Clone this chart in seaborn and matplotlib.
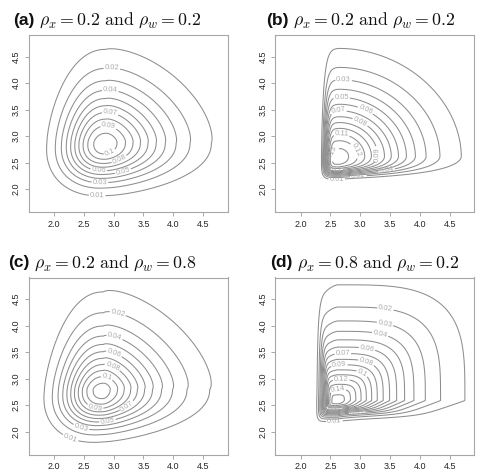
import numpy as np
import matplotlib.pyplot as plt
import seaborn as sns

# panel headers
panel_tags = ["(a)", "(b)", "(c)", "(d)"]
rho_x = [0.2, 0.2, 0.2, 0.8]
rho_w = [0.2, 0.2, 0.8, 0.2]

# shape of each density surface
mode_x = [2.87, 2.66, 2.83, 2.63]
mode_y = [2.87, 2.62, 2.80, 2.59]
peak = [0.108, 0.135, 0.116, 0.157]
low_scale_x = [0.665, 0.253, 0.66, 0.266]
low_scale_y = [0.665, 0.34, 0.66, 0.254]
low_power_x = [2.17, 4.7, 2.2, 3.35]
low_power_y = [2.17, 4.0, 2.2, 2.23]
up_scale_x = [1.0, 1.12, 0.93, 1.01]
up_scale_y = [1.0, 1.12, 0.96, 1.036]
up_power = [1.52, 1.6, 1.38, 1.36]
tail_join = [1.0, 1.2, 1.0, 2.6]
assoc_same = [0.1, 0.0, 0.14, 0.0]
assoc_ul = [0.0, 0.1, 0.0, 0.1]
assoc_lr = [0.0, 0.4, 0.0, 0.4]
top_level = [0.10, 0.13, 0.11, 0.15]

# where the contour labels sit (level, x, y)
label_spots = [
    [(0.02, 2.97, 4.27), (0.04, 2.94, 3.87), (0.07, 2.94, 3.44), (0.09, 2.91, 3.17),
     (0.10, 2.94, 2.67), (0.08, 3.11, 2.53), (0.06, 2.75, 2.34), (0.05, 3.16, 2.31),
     (0.03, 2.77, 2.14), (0.01, 2.72, 1.92)],
    [(0.03, 2.72, 4.09), (0.05, 2.69, 3.78), (0.07, 2.63, 3.50), (0.06, 3.08, 3.47),
     (0.08, 3.03, 3.34), (0.11, 2.69, 3.06), (0.12, 2.91, 2.72), (0.13, 2.61, 2.66),
     (0.09, 3.27, 2.66), (0.10, 2.61, 2.37), (0.01, 2.61, 2.19), (0.02, 2.97, 2.22),
     (0.04, 3.45, 2.32)],
    [(0.02, 3.08, 4.28), (0.04, 3.03, 3.86), (0.06, 3.03, 3.55), (0.08, 3.00, 3.28),
     (0.10, 2.89, 3.03), (0.09, 2.70, 2.51), (0.07, 3.22, 2.48), (0.05, 2.89, 2.22),
     (0.03, 2.45, 2.05), (0.01, 2.25, 1.82)],
    [(0.02, 3.42, 4.31), (0.03, 3.42, 4.06), (0.04, 3.34, 3.88), (0.06, 3.12, 3.59),
     (0.07, 2.71, 3.45), (0.08, 3.09, 3.27), (0.09, 2.65, 3.22), (0.10, 3.01, 3.05),
     (0.12, 2.68, 2.97), (0.14, 2.62, 2.77), (0.11, 2.57, 2.43), (0.05, 2.95, 2.32),
     (0.01, 2.57, 2.19)],
]

ticks = [2.0, 2.5, 3.0, 3.5, 4.0, 4.5]
lims = (1.57, 4.91)

sns.set_theme(style="ticks")
plt.rcParams["font.family"] = ["Liberation Sans", "DejaVu Sans"]
plt.rcParams["mathtext.fontset"] = "cm"


def energy(d, ls, lp, us, up):
    return np.where(d < 0, (np.abs(d) / ls) ** lp, (np.abs(d) / us) ** up)


def surface(i, X, Y):
    dx, dy = X - mode_x[i], Y - mode_y[i]
    ex = energy(dx, low_scale_x[i], low_power_x[i], up_scale_x[i], up_power[i])
    ey = energy(dy, low_scale_y[i], low_power_y[i], up_scale_y[i], up_power[i])
    th = tail_join[i]
    c = (ex ** th + ey ** th) ** (1 / th)
    cross = np.sqrt(4 * ex * ey)
    a = np.where(dx * dy > 0, -assoc_same[i],
                 np.where(dx < 0, assoc_ul[i], assoc_lr[i]))
    return peak[i] * np.exp(-(c + a * cross))


def snap(ax, cs, k, x, y):
    # nearest point of level k to the wanted label spot (in screen space)
    verts = cs.get_paths()[k].vertices
    if len(verts) == 0:
        return None
    pts = ax.transData.transform(verts)
    want = ax.transData.transform((x, y))
    j = int(np.argmin(((pts - want) ** 2).sum(axis=1)))
    return tuple(verts[j])


g = np.linspace(lims[0], lims[1], 500)
X, Y = np.meshgrid(g, g)

fig = plt.figure(figsize=(4.79, 4.73), dpi=100)
W, H = 479.0, 473.0
boxes = [(28.5, 35), (275, 35), (28.5, 277.5), (275, 277.5)]
title_start = [13, 266, 8, 270]
fmt = lambda v: f"{v:g}"

for i in range(4):
    left, top = boxes[i]
    ax = fig.add_axes([left / W, 1 - (top + 177) / H, 199 / W, 177 / H])
    Z = surface(i, X, Y)
    levels = np.round(np.arange(0.01, top_level[i] + 0.001, 0.01), 2)
    cs = ax.contour(X, Y, Z, levels=levels, colors="#8e8e8e", linewidths=0.75)
    ax.set_xlim(lims)
    ax.set_ylim(lims)
    for lev, lx, ly in label_spots[i]:
        k = int(np.argmin(np.abs(cs.levels - lev)))
        p = snap(ax, cs, k, lx, ly)
        if p is None:
            continue
        ax.clabel(cs, manual=[p], fmt=fmt, fontsize=5.5, colors="#ababab",
                  inline=True, inline_spacing=1)
    ax.set_xticks(ticks)
    ax.set_yticks(ticks)
    ax.set_xticklabels([f"{t:.1f}" for t in ticks])
    ax.set_yticklabels([f"{t:.1f}" for t in ticks], rotation=90, va="center")
    ax.tick_params(length=3, width=0.6, color="#9a9a9a", labelsize=6.5,
                   labelcolor="#262626", pad=2.5)
    for s in ax.spines.values():
        s.set_color("#a6a6a6")
        s.set_linewidth(0.8)
    ax.set_facecolor("white")

    ty = 1 + 10 / 177
    tx = (title_start[i] - left) / 199
    tag = ax.text(tx, ty, panel_tags[i], transform=ax.transAxes, fontsize=12.5,
                  fontweight="bold", ha="left", va="baseline", color="#111111")
    ax.annotate(rf"$\rho_x = {rho_x[i]}\ \mathrm{{and}}\ \rho_w = {rho_w[i]}$",
                xy=(1.0, ty), xycoords=(tag, "axes fraction"),
                xytext=(3, 0), textcoords="offset points",
                fontsize=12.8, ha="left", va="baseline", color="#111111",
                annotation_clip=False)

fig.savefig("out.png", dpi=100)
